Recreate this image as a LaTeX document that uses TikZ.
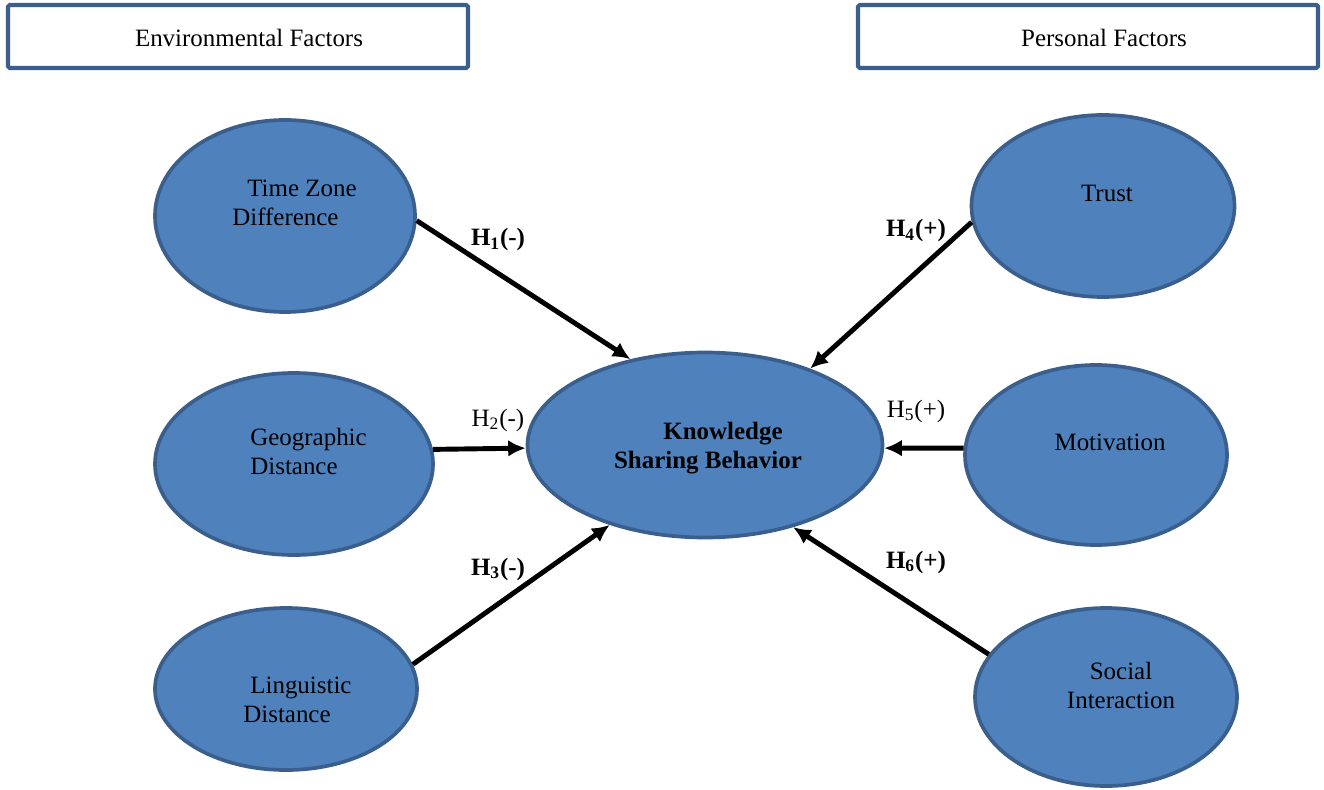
\documentclass[tikz,border=0pt]{standalone}
\usepackage{fontspec}
\setmainfont{Liberation Serif}
\usetikzlibrary{shapes.geometric,arrows.meta}
\definecolor{ovfill}{HTML}{4F81BD}
\definecolor{ovline}{HTML}{3A5F8D}
\definecolor{boxline}{HTML}{3B5E8C}
\tikzset{
  oval/.style={ellipse,draw=ovline,fill=ovfill,line width=2.1pt,inner sep=0pt},
  txt/.style={font=\fontsize{14.2}{16.5}\selectfont,inner sep=0pt,align=left},
  hyp/.style={font=\fontsize{14.2}{16.5}\selectfont,inner sep=0pt},
  hdrbox/.style={draw=boxline,line width=2.4pt,fill=white,rounded corners=1pt,inner sep=0pt},
  conn/.style={line width=2.8pt,-{Latex[length=10pt,width=9.5pt]}}
}
\begin{document}
\begin{tikzpicture}[x=0.02cm,y=-0.02cm]
\useasboundingbox (0,0) rectangle (1324,790);
% header boxes
\node[hdrbox,minimum width=460*0.02cm,minimum height=63*0.02cm] (env) at (238,36.5) {};
\node[hyp] (envt) at (249,38) {Environmental Factors};
\node[hdrbox,minimum width=460*0.02cm,minimum height=63*0.02cm] (pers) at (1088,36.5) {};
\node[hyp] (perst) at (1104,38) {Personal Factors};
% ovals
\node[oval,minimum width=260*0.02cm,minimum height=192*0.02cm] (tz) at (285,216) {};
\node[oval,minimum width=278*0.02cm,minimum height=182*0.02cm] (gd) at (294,464) {};
\node[oval,minimum width=262*0.02cm,minimum height=162*0.02cm] (ld) at (286,689) {};
\node[oval,minimum width=355*0.02cm,minimum height=185*0.02cm] (ksb) at (705,445) {};
\node[oval,minimum width=263*0.02cm,minimum height=182*0.02cm] (tr) at (1103,206) {};
\node[oval,minimum width=262*0.02cm,minimum height=180*0.02cm] (mo) at (1096,455) {};
\node[oval,minimum width=262*0.02cm,minimum height=178*0.02cm] (si) at (1106,697) {};
% oval texts
\node[txt,anchor=west] (tzt) at (232,203) {\hspace{15\dimexpr0.02cm\relax}Time Zone\\Difference};
\node[txt,anchor=west] (gdt) at (250,451) {Geographic\\Distance};
\node[txt,anchor=west] (ldt) at (243,700) {\hspace{7\dimexpr0.02cm\relax}Linguistic\\Distance};
\node[txt,align=center,font=\fontsize{14.2}{16.5}\selectfont\bfseries] (ksbt) at (708,448) {\hspace{30\dimexpr0.02cm\relax}Knowledge\\Sharing Behavior};
\node[hyp] (trt) at (1107,193) {Trust};
\node[hyp] (mot) at (1110,442) {Motivation};
\node[txt,align=center] (sit) at (1121,685) {Social\\Interaction};
% connectors
\draw[conn] (tz.-2.6) -- (ksb.131.6);
\draw[conn] (gd.6.4) -- (ksb.181);
\draw[conn] (ld.11.1) -- (ksb.220.7);
\draw[conn] (tr.187.5) -- (ksb.36.4);
\draw[conn] (mo.177) -- (ksb.-1);
\draw[conn] (si.160.1) -- (ksb.-43);
% hypothesis labels
\node[hyp,font=\fontsize{14.2}{16.5}\selectfont\bfseries] (h1) at (498,240) {H\textsubscript{1}(-)};
\node[hyp] (h2) at (498,420) {H\textsubscript{2}(-)};
\node[hyp,font=\fontsize{14.2}{16.5}\selectfont\bfseries] (h3) at (498,569) {H\textsubscript{3}(-)};
\node[hyp,font=\fontsize{14.2}{16.5}\selectfont\bfseries] (h4) at (916,231) {H\textsubscript{4}(+)};
\node[hyp] (h5) at (916,411) {H\textsubscript{5}(+)};
\node[hyp,font=\fontsize{14.2}{16.5}\selectfont\bfseries] (h6) at (916,562) {H\textsubscript{6}(+)};
\end{tikzpicture}
\end{document}
